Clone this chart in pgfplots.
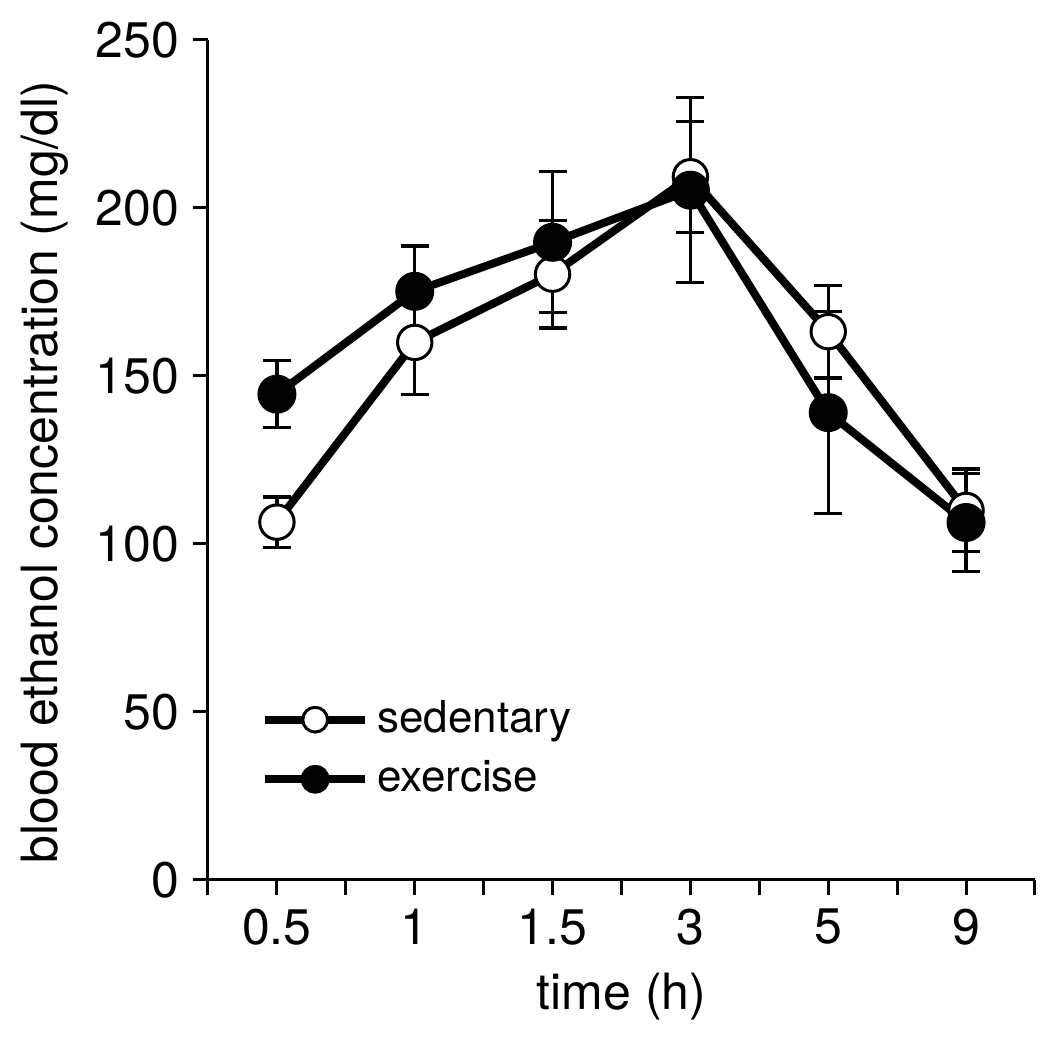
\documentclass[border=0pt]{standalone}
\usepackage{fontspec}
\setmainfont{TeX Gyre Heros}
\usepackage{pgfplots}
\pgfplotsset{compat=1.18}
\begin{document}
\begin{tikzpicture}
\useasboundingbox (-52pt,-39.5pt) rectangle (210.5pt,220pt);
\begin{axis}[
  at={(0,0)}, anchor=south west,
  scale only axis, width=206.75pt, height=210pt,
  xmin=-0.5, xmax=5.5, ymin=0, ymax=250,
  axis x line*=bottom, axis y line*=left,
  axis line style={line width=0.75pt},
  xtick={-0.5,0,0.5,1,1.5,2,2.5,3,3.5,4,4.5,5,5.5},
  xticklabels={,0.5,,1,,1.5,,3,,5,,9,},
  ytick={0,50,100,150,200,250},
  tick align=outside, major tick length=3.75pt,
  every tick/.style={black, line width=0.75pt},
  tick label style={font=\fontsize{12.5}{15}\selectfont},
  /pgf/number format/assume math mode=true,
  label style={font=\fontsize{12.5}{15}\selectfont},
  xlabel={time (h)},
  ylabel={blood ethanol concentration (mg/dl)},
  ylabel style={at={(ticklabel cs:0.486)}},
  legend style={at={(axis cs:-0.12,56)}, anchor=north west, draw=none, fill=none,
    font=\fontsize{11}{13}\selectfont, row sep=1.5pt, inner sep=0pt},
  legend cell align=left,
  legend image code/.code={\draw[mark repeat=2,mark phase=2, every mark/.append style={scale=0.72}] plot coordinates {(0pt,0pt) (12.5pt,0pt) (25pt,0pt)};},
]
% error bars first (behind everything)
\addplot[draw=none, forget plot, error bars/.cd, y dir=both, y explicit,
  error bar style={draw=black, line width=0.8pt},
  error mark options={draw=black, line width=0.8pt, mark size=3.5pt, rotate=90}]
  table[x=x, y=y, y error=e] {
x y e
0 106.5 7.5
1 160.0 15.5
2 180.3 16.0
3 209.3 16.5
4 163.2 13.8
5 110.0 12.3
};
\addplot[draw=none, forget plot, error bars/.cd, y dir=both, y explicit,
  error bar style={draw=black, line width=0.8pt},
  error mark options={draw=black, line width=0.8pt, mark size=3.5pt, rotate=90}]
  table[x=x, y=y, y error=e] {
x y e
0 144.6 10.0
1 175.2 13.5
2 189.8 21.0
3 205.3 27.5
4 139.1 30.0
5 106.4 14.6
};
\addplot[black, line width=2pt, mark=*, mark size=4.3pt,
  mark options={fill=white, draw=black, line width=0.75pt}]
  table[x=x, y=y] {
x y
0 106.5
1 160.0
2 180.3
3 209.3
4 163.2
5 110.0
};
\addlegendentry{sedentary}
\addplot[black, line width=2pt, mark=*, mark size=4.5pt,
  mark options={fill=black, draw=black, line width=0.75pt}]
  table[x=x, y=y] {
x y
0 144.6
1 175.2
2 189.8
3 205.3
4 139.1
5 106.4
};
\addlegendentry{exercise}
\end{axis}
\end{tikzpicture}
\end{document}
